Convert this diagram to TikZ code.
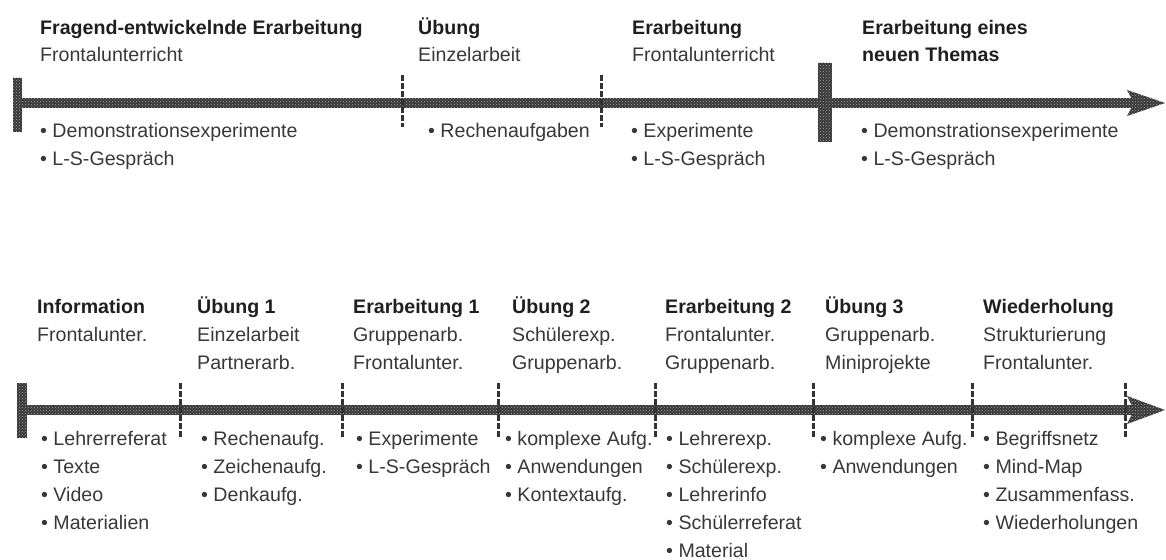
\documentclass[tikz,border=0pt]{standalone}
\usepackage{fontspec}
\setmainfont{Liberation Sans}
\usetikzlibrary{patterns}
\tikzset{
  txt/.style={anchor=base west, inner sep=0pt, font=\fontsize{19.6}{28}\selectfont, text=black!78},
  hd/.style={txt, font=\fontsize{19.6}{28}\selectfont\bfseries, text=black!88},
  barfill/.style={fill=black!78, postaction={pattern=crosshatch dots, pattern color=black!35}},
  tickline/.style={draw=black!80, line width=3pt, dash pattern=on 6pt off 2pt},
}
\begin{document}
\begin{tikzpicture}[x=1pt,y=-1pt]
\useasboundingbox (0,0) rectangle (1166,559);

% ---------- top timeline ----------
\coordinate (tS) at (18,98);
\coordinate (tE) at (1134,108);
\path[barfill] (tS) rectangle (tE);
\path[barfill] (1127,90) -- (1165,103) -- (1127,116) -- (1134,103) -- cycle;
\path[barfill] (13,78) rectangle (22,132);
\path[barfill] (818,63) rectangle (832,142);
\foreach \x [count=\i] in {402,601} {
  \coordinate (tt\i a) at (\x,75);
  \coordinate (tt\i b) at (\x,127);
  \draw[tickline] (tt\i a) -- (tt\i b);
}

% top texts
\node[hd] (a1) at (40,35) {Fragend-entwickelnde Erarbeitung};
\node[txt] (a2) at (40,62) {Frontalunterricht};
\node[txt] (a3) at (40,137) {• Demonstrationsexperimente};
\node[txt] (a4) at (40,165) {• L-S-Gespräch};

\node[hd] (b1) at (418,35) {Übung};
\node[txt] (b2) at (418,62) {Einzelarbeit};
\node[txt] (b3) at (428,137) {• Rechenaufgaben};

\node[hd] (c1) at (632,35) {Erarbeitung};
\node[txt] (c2) at (632,62) {Frontalunterricht};
\node[txt] (c3) at (631,137) {• Experimente};
\node[txt] (c4) at (631,165) {• L-S-Gespräch};

\node[hd] (d1) at (862,35) {Erarbeitung eines};
\node[hd] (d2) at (862,62) {neuen Themas};
\node[txt] (d3) at (861,137) {• Demonstrationsexperimente};
\node[txt] (d4) at (861,165) {• L-S-Gespräch};

% ---------- bottom timeline ----------
\coordinate (bS) at (22,405);
\coordinate (bE) at (1134,415);
\path[barfill] (bS) rectangle (bE);
\path[barfill] (1127,396) -- (1165,410) -- (1127,424) -- (1134,410) -- cycle;
\path[barfill] (17,383) rectangle (27,438);
\foreach \x [count=\i] in {180,342,498,655,813,972,1125} {
  \coordinate (bt\i a) at (\x,383);
  \coordinate (bt\i b) at (\x,438);
  \draw[tickline] (bt\i a) -- (bt\i b);
}

% bottom texts
\node[hd] (e1) at (37,313) {Information};
\node[txt] (e2) at (37,341) {Frontalunter.};
\foreach \t [count=\i] in {Lehrerreferat,Texte,Video,Materialien}
  \node[txt] (e3-\i) at (41,{445+(\i-1)*28}) {• \t};

\node[hd] (f1) at (197,313) {Übung 1};
\node[txt] (f2) at (197,341) {Einzelarbeit};
\node[txt] (f3) at (197,369) {Partnerarb.};
\foreach \t [count=\i] in {Rechenaufg.,Zeichenaufg.,Denkaufg.}
  \node[txt] (f4-\i) at (201,{445+(\i-1)*28}) {• \t};

\node[hd] (g1) at (353,313) {Erarbeitung 1};
\node[txt] (g2) at (353,341) {Gruppenarb.};
\node[txt] (g3) at (353,369) {Frontalunter.};
\foreach \t [count=\i] in {Experimente,L-S-Gespräch}
  \node[txt] (g4-\i) at (356,{445+(\i-1)*28}) {• \t};

\node[hd] (h1) at (512,313) {Übung 2};
\node[txt] (h2) at (512,341) {Schülerexp.};
\node[txt] (h3) at (512,369) {Gruppenarb.};
\foreach \t [count=\i] in {komplexe Aufg.,Anwendungen,Kontextaufg.}
  \node[txt] (h4-\i) at (505,{445+(\i-1)*28}) {• \t};

\node[hd] (k1) at (665,313) {Erarbeitung 2};
\node[txt] (k2) at (665,341) {Frontalunter.};
\node[txt] (k3) at (665,369) {Gruppenarb.};
\foreach \t [count=\i] in {Lehrerexp.,Schülerexp.,Lehrerinfo,Schülerreferat,Material}
  \node[txt] (k4-\i) at (666,{445+(\i-1)*28}) {• \t};

\node[hd] (m1) at (825,313) {Übung 3};
\node[txt] (m2) at (825,341) {Gruppenarb.};
\node[txt] (m3) at (825,369) {Miniprojekte};
\foreach \t [count=\i] in {komplexe Aufg.,Anwendungen}
  \node[txt] (m4-\i) at (820,{445+(\i-1)*28}) {• \t};

\node[hd] (n1) at (983,313) {Wiederholung};
\node[txt] (n2) at (983,341) {Strukturierung};
\node[txt] (n3) at (983,369) {Frontalunter.};
\foreach \t [count=\i] in {Begriffsnetz,Mind-Map,Zusammenfass.,Wiederholungen}
  \node[txt] (n4-\i) at (983,{445+(\i-1)*28}) {• \t};
\end{tikzpicture}
\end{document}
